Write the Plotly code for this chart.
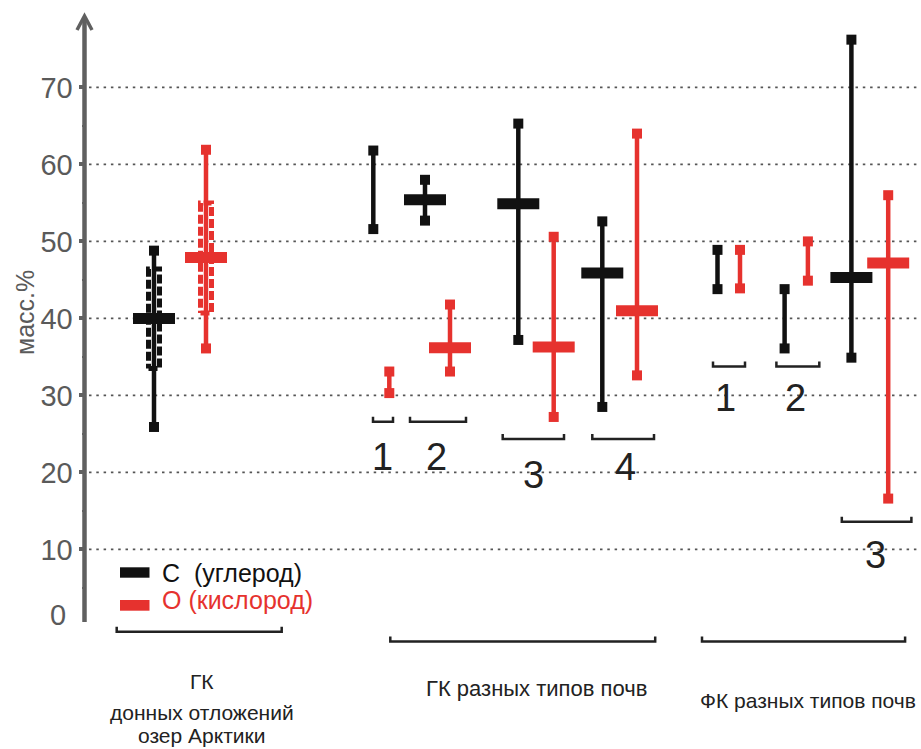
import plotly.graph_objects as go

# ---------------- data (масс.%) ----------------
groups = ["ГК озер Арктики", "ГК 1", "ГК 2", "ГК 3", "ГК 4", "ФК 1", "ФК 2", "ФК 3"]
C_min = [25.9, 51.6, 52.7, 37.2, 28.5, 43.8, 36.1, 34.9]
C_max = [48.8, 61.8, 58.0, 65.3, 52.6, 48.9, 43.8, 76.2]
C_mean = [40.0, None, 55.4, 54.9, 45.9, None, None, 45.3]
O_min = [36.1, 30.3, 33.1, 27.2, 32.6, 43.9, 44.9, 16.6]
O_max = [61.9, 33.1, 41.8, 50.6, 64.0, 48.9, 50.0, 56.0]
O_mean = [47.9, None, 36.2, 36.3, 41.0, None, None, 47.2]
# inner (dashed) range for Arctic lakes
C_inner = [33.5, 46.4]
O_inner = [40.7, 55.0]
y_ticks = [10, 20, 30, 40, 50, 60, 70]
sub_labels = ["1", "2", "3", "4", "1", "2", "3"]

# ---------------- layout positions (pixels) ----------------
C_pos = [154, 373.3, 425, 518.3, 602.3, 717.5, 784.6, 851.4]
O_pos = [206, 389.3, 450, 553.7, 637, 740, 807.9, 888.2]

W, H = 921, 749
Y0_PIX, PX_PER_UNIT = 626.4, 7.70
y_range = [(Y0_PIX - H) / PX_PER_UNIT, Y0_PIX / PX_PER_UNIT]

BLACK = "#111111"
RED = "#e6322e"
GREY = "#5a5a5a"
FONT = "Liberation Sans Narrow, Arial Narrow, Liberation Sans, Arial, sans-serif"

fig = go.Figure()


def add_series(pos, vmin, vmax, vmean, inner, inner_pos, color):
    # inner dashed rectangle
    lo, hi = inner
    fig.add_trace(go.Scatter(
        x=[inner_pos - 5.5, inner_pos + 5.5, inner_pos + 5.5, inner_pos - 5.5, inner_pos - 5.5],
        y=[lo, lo, hi, hi, lo], mode="lines",
        line=dict(color=color, width=5, dash="9px,3px"), hoverinfo="skip", showlegend=False))
    xs, ys = [], []
    for p, a, b in zip(pos, vmin, vmax):
        xs += [p, p, None]
        ys += [a, b, None]
    fig.add_trace(go.Scatter(x=xs, y=ys, mode="lines", line=dict(color=color, width=4.5),
                             hoverinfo="skip", showlegend=False))
    fig.add_trace(go.Scatter(x=list(pos) + list(pos), y=list(vmin) + list(vmax), mode="markers",
                             marker=dict(symbol="square", size=10, color=color, line=dict(width=0)),
                             showlegend=False))
    mx = [p for p, m in zip(pos, vmean) if m is not None]
    my = [m for m in vmean if m is not None]
    fig.add_trace(go.Scatter(x=mx, y=my, mode="markers",
                             marker=dict(symbol="line-ew", size=30, color=color,
                                         line=dict(width=11, color=color)),
                             showlegend=False))


add_series(C_pos, C_min, C_max, C_mean, C_inner, C_pos[0], BLACK)
add_series(O_pos, O_min, O_max, O_mean, O_inner, O_pos[0], RED)

shapes = []
# dotted gridlines
for v in y_ticks:
    shapes.append(dict(type="line", xref="x", yref="y", x0=89, x1=W, y0=v, y1=v,
                       line=dict(color="#555555", width=1.8, dash="2.5px,4.8px"), layer="below"))
# axis line and arrow (pixel coordinates on y2)
shapes.append(dict(type="line", xref="x", yref="y2", x0=84.5, x1=84.5, y0=622, y1=18,
                   line=dict(color="#606060", width=4.5)))
shapes.append(dict(type="path", xref="x", yref="y2", path="M 77,30 L 84.5,16 L 92,30",
                   line=dict(color="#606060", width=3.5)))


def bracket(x0, x1, y, t=5):
    shapes.append(dict(type="path", xref="x", yref="y2",
                       path=f"M {x0},{y - t} L {x0},{y} L {x1},{y} L {x1},{y - t}",
                       line=dict(color="#222222", width=2.5)))


for x0, x1, y in [(373, 393, 421.7), (410, 466, 421.7), (502.7, 564, 439), (592.3, 654, 439),
                  (713, 745, 366.4), (776.4, 819.3, 366.4), (841.8, 911.4, 521.8),
                  (116.7, 281.7, 631.7), (390.3, 655.2, 641.4), (702, 905.1, 641.4)]:
    bracket(x0, x1, y)

# legend swatches
shapes.append(dict(type="rect", xref="x", yref="y2", x0=120, x1=149.5, y0=567.3, y1=577.7,
                   fillcolor=BLACK, line=dict(width=0)))
shapes.append(dict(type="rect", xref="x", yref="y2", x0=120, x1=149.5, y0=600, y1=610.7,
                   fillcolor=RED, line=dict(width=0)))

ann = []


def text(x, y, s, size, color="#222222", xanchor="center", angle=0):
    ann.append(dict(x=x, y=y, xref="x", yref="y2", text=s, showarrow=False, xanchor=xanchor,
                    yanchor="middle", textangle=angle,
                    font=dict(family=FONT, size=size, color=color)))


for s, x, y in zip(sub_labels, [382, 436.7, 533.3, 625, 725.7, 795, 875.7],
                   [457, 457, 475, 466.5, 397.6, 397.6, 554.7]):
    text(x, y, s, 38)

text(160, 573, "С  (углерод)", 25, BLACK, "left")
text(160, 600, "О (кислород)", 25, RED, "left")
text(201.7, 681.5, "ГК", 21)
text(201.7, 712, "донных отложений", 21)
text(201.7, 735, "озер Арктики", 21)
text(536.6, 688, "ГК разных типов почв", 22)
text(808, 700.8, "ФК разных типов почв", 21)
text(58, 615, "0", 29, GREY)
text(25, 313, "масс.%", 25, GREY, angle=-90)

fig.update_layout(
    width=W, height=H, margin=dict(l=0, r=0, t=0, b=0),
    paper_bgcolor="white", plot_bgcolor="white", showlegend=False,
    xaxis=dict(range=[0, W], visible=False, fixedrange=True),
    yaxis=dict(range=y_range, anchor="free", position=84.5 / W, showgrid=False, zeroline=False,
               showline=False, tickvals=y_ticks, ticks="outside", ticklen=6, tickwidth=4,
               tickcolor="#606060", tickfont=dict(family=FONT, size=29, color=GREY),
               minor=dict(tickvals=[5, 15, 25, 35, 45, 55, 65], ticks="outside", ticklen=3,
                          tickwidth=2, tickcolor="#606060")),
    yaxis2=dict(range=[H, 0], overlaying="y", visible=False),
    shapes=shapes, annotations=ann,
)

fig.write_html("out.html", config={"displayModeBar": False},
               post_script="document.body.style.margin='0px';")
